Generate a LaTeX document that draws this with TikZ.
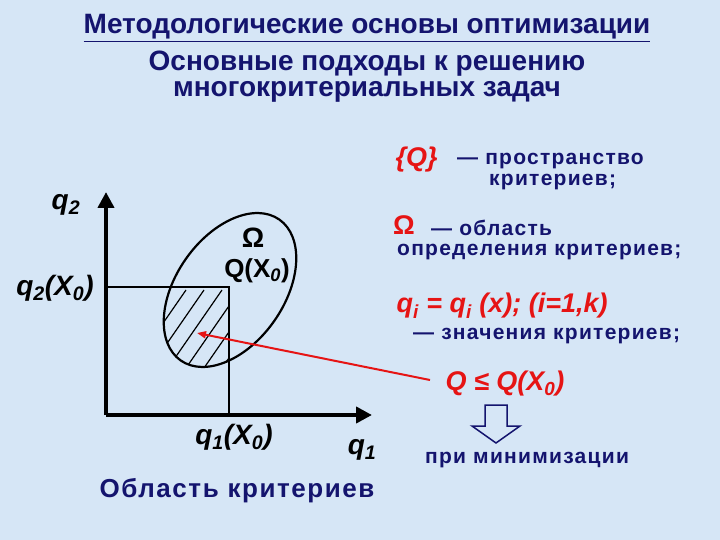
\documentclass[tikz,border=0pt]{standalone}
\usepackage{fontspec}
\setmainfont{Liberation Sans}
\newfontfamily\spaced[LetterSpace=6]{Liberation Sans}
\usetikzlibrary{arrows.meta}
\definecolor{bg}{RGB}{214,230,246}
\definecolor{navy}{RGB}{20,20,110}
\definecolor{rd}{RGB}{230,20,20}
\tikzset{
 ttl/.style={font=\bfseries\fontsize{28}{30}\selectfont,text=navy},
 blu/.style={font=\spaced\bfseries\fontsize{21}{23}\selectfont,text=navy,inner sep=1pt},
 red/.style={font=\bfseries\itshape\fontsize{27}{29}\selectfont,text=rd},
 lab/.style={font=\bfseries\itshape\fontsize{28}{30}\selectfont,text=black},
}
\begin{document}
\begin{tikzpicture}[x=1pt,y=-1pt]
\fill[bg] (0,0) rectangle (720,540);
\useasboundingbox (0,0) rectangle (720,540);
% titles
\node[ttl] (t1) at (367,28) {\underline{Методологические основы оптимизации}};
\node[ttl] (t2) at (367,64) {Основные подходы к решению};
\node[ttl] (t3) at (367,92) {многокритериальных задач};
% hatch
\begin{scope}
\clip[rotate around={55:(230,290)}] (230,290) ellipse [x radius=86, y radius=54];
\clip (106,287) rectangle (229,415);
\foreach \i in {0,...,14} \draw[line width=1.2pt] (60+18*\i,420) -- +(90,-130);
\end{scope}
\draw[line width=1.2pt] (106,287) -- (229,287) -- (229,415);
\draw[line width=2.2pt,rotate around={55:(230,290)}] (230,290) ellipse [x radius=86, y radius=54];
% axes
\coordinate (o) at (106,415);
\coordinate (ytop) at (106,192);
\coordinate (xr) at (372,415);
\draw[line width=4pt,-{Triangle[length=16pt,width=16pt]}] (o) -- (ytop);
\draw[line width=4pt,-{Triangle[length=16pt,width=16pt]}] (o) -- (xr);
% labels
\node[lab] (q2) at (66,205) {q\textsubscript{2}};
\node[lab] (q2x) at (55,288) {q\textsubscript{2}(X\textsubscript{0})};
\node[font=\bfseries\fontsize{28}{30}\selectfont] (om) at (253,238) {Ω};
\node[font=\bfseries\fontsize{26}{28}\selectfont] (qx) at (257,271) {Q(X\textsubscript{\itshape 0})};
\node[lab] (q1x) at (234,437) {q\textsubscript{1}(X\textsubscript{0})};
\node[lab] (q1) at (362,450) {q\textsubscript{1}};
\node[font=\spaced\bfseries\fontsize{26}{28}\selectfont,text=navy] (ob) at (237,491) {Область критериев};
% right text
\node[red,anchor=west] (Q) at (392,160) {\{Q\}};
\node[blu,anchor=west] (p1) at (456,161) {— пространство};
\node[blu,anchor=west] (p2) at (488,182) {критериев;};
\node[font=\bfseries\fontsize{27}{29}\selectfont,text=rd,anchor=west,inner sep=1pt] (om2) at (392,225) {Ω};
\node[blu,anchor=west] (o1) at (430,228) {— область};
\node[blu,anchor=west] (o2) at (396,252) {определения критериев;};
\node[red,anchor=west] (f) at (393,306) {q\textsubscript{i} = q\textsubscript{i} (x); (i=1,k)};
\node[blu,anchor=west] (z) at (412,336) {— значения критериев;};
\node[red,anchor=west] (ineq) at (442,384) {Q ≤ Q(X\textsubscript{0})};
\draw[navy,line width=1.5pt,fill=bg] (485,405) -- (507,405) -- (507,426) -- (520,426) -- (496,443) -- (472,426) -- (485,426) -- cycle;
\node[blu,anchor=west] (pm) at (424,460) {при минимизации};
% red arrow
\coordinate (ra) at (430,380);
\coordinate (rb) at (197,333);
\draw[rd,line width=2pt,-{Triangle[length=9pt,width=7pt]}] (ra) -- (rb);
\end{tikzpicture}
\end{document}
